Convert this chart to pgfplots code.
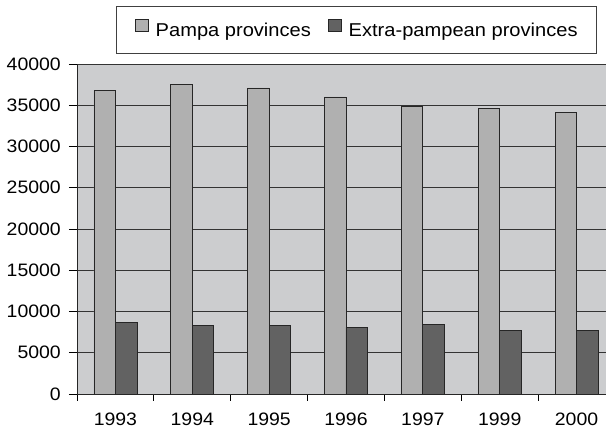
\documentclass[border=0pt]{standalone}
\usepackage{fontspec}
\setmainfont{Liberation Sans}[FakeStretch=1.08]
\usepackage{pgfplots}
\pgfplotsset{compat=1.18}
\definecolor{bg}{RGB}{204,205,207}
\definecolor{pampa}{RGB}{176,176,176}
\definecolor{extra}{RGB}{98,98,98}
\begin{document}
\fontsize{18}{21}\selectfont
\begin{tikzpicture}
\begin{axis}[
  scale only axis, width=529pt, height=330pt,
  xmin=-0.5, xmax=6.383, ymin=0, ymax=40000,
  axis x line=bottom, axis y line=left,
  axis line style={-, black!85, line width=0.9pt},
  axis background/.style={fill=bg},
  ybar=0pt, bar width=0.28,
  xtick={0,...,6}, xticklabels={1993,1994,1995,1996,1997,1999,2000},
  minor xtick={-0.5,0.5,...,5.5},
  tick align=outside,
  every major x tick/.append style={draw=none},
  every minor x tick/.append style={black, line width=0.8pt},
  minor tick length=7pt, major tick length=8pt,
  ytick={0,5000,...,40000}, scaled y ticks=false,
  ymajorgrids, major grid style={black!80, line width=0.8pt},
  every major y tick/.append style={black, line width=0.8pt},
  /pgf/number format/1000 sep={}, /pgf/number format/assume math mode=true,
  ticklabel style={font=\fontsize{18}{21}\selectfont},
  yticklabel style={xshift=-2pt},
  xticklabel style={yshift=-5pt},
  legend style={at={(axis description cs:0.983,1.176)}, anchor=north east,
    draw=black!75, line width=0.8pt, fill=white, legend columns=2,
    inner xsep=19pt, inner ysep=13pt,
    nodes={inner sep=0pt, text height=13pt, text depth=4pt, font=\fontsize{18.6}{22}\selectfont},
    /tikz/every odd column/.append style={column sep=0pt},
    /tikz/every even column/.append style={column sep=17pt}},
  legend cell align=left,
  legend image code/.code={\draw[#1, line width=0.8pt] (0pt,0pt) rectangle (13pt,12pt); \path (20pt,6pt);},
]
\addplot[fill=pampa, draw=black!85, line width=0.8pt] coordinates {
  (0,36800) (1,37500) (2,37100) (3,36000) (4,34800) (5,34600) (6,34100)};
\addlegendentry{Pampa provinces}
\addplot[fill=extra, draw=black!85, line width=0.8pt] coordinates {
  (0,8650) (1,8280) (2,8280) (3,8080) (4,8450) (5,7720) (6,7720)};
\addlegendentry{Extra-pampean provinces}
\coordinate (o) at (rel axis cs:0,0);
\end{axis}
\pgfresetboundingbox
\path[use as bounding box] (o) ++(-77pt,-34pt) rectangle ++(606pt,428pt);
\end{tikzpicture}
\end{document}
